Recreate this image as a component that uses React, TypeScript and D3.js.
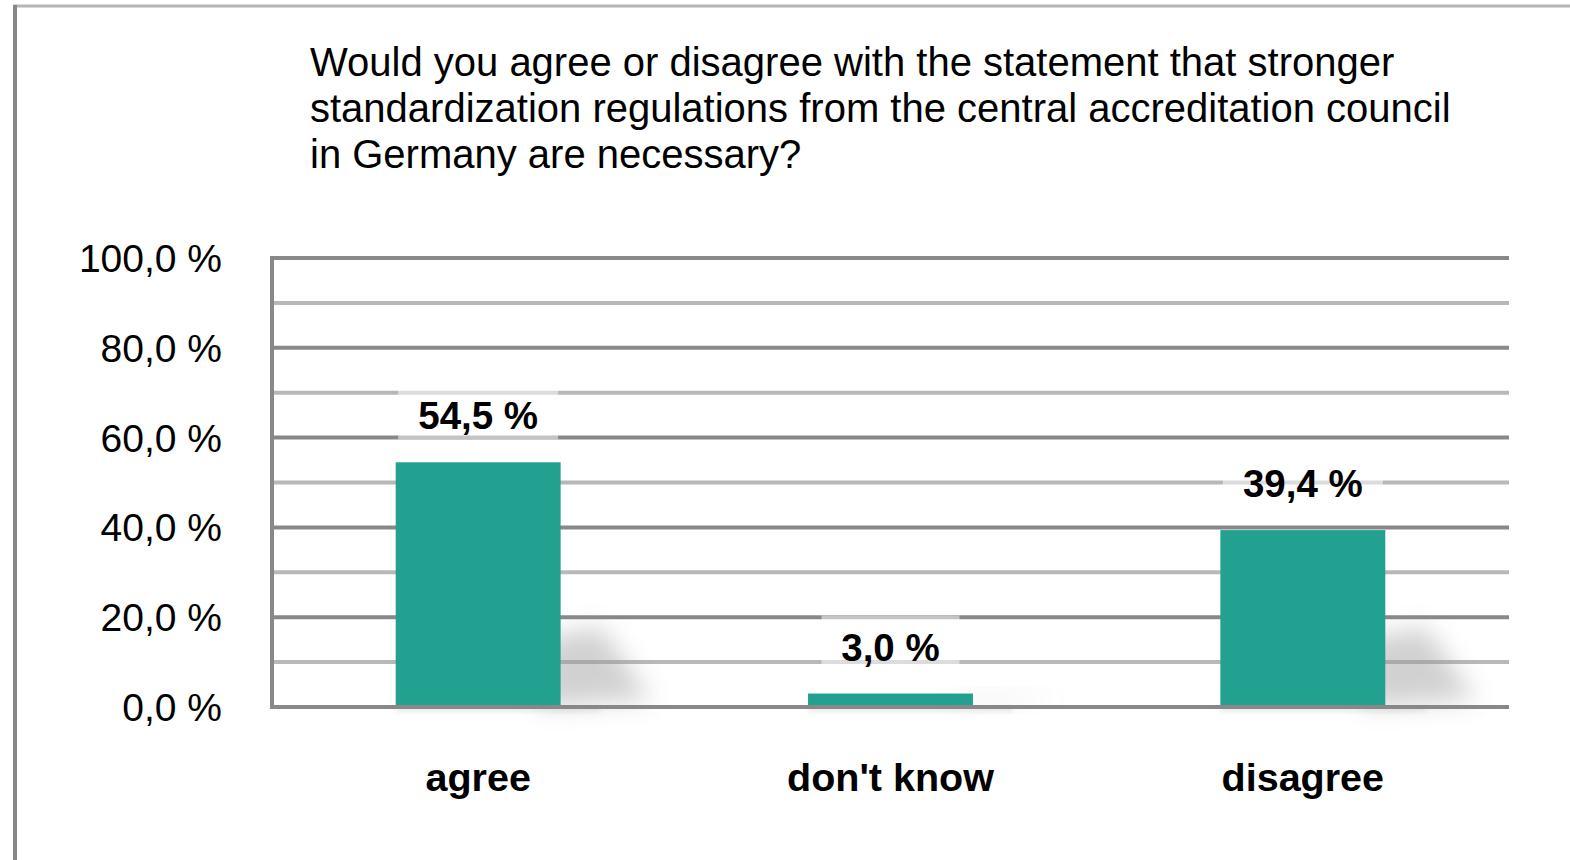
import React from "react";
import * as d3 from "d3";

const categories = ["agree", "don't know", "disagree"];
const values = [54.5, 3.0, 39.4];
const majorTicks = [0, 20, 40, 60, 80, 100];
const minorTicks = [10, 30, 50, 70, 90];
const titleLines = [
  "Would you agree or disagree with the statement that stronger",
  "standardization regulations from the central accreditation council",
  "in Germany are necessary?",
];

const W = 1570;
const H = 860;
const FONT = "'Liberation Sans', Arial, sans-serif";
const fmt = (v: number) => v.toFixed(1).replace(".", ",") + " %";

export default function App() {
  const x0 = 272, x1 = 1509, yTop = 258, yBot = 707;
  const x = d3.scaleBand().domain(categories).range([x0, x1]).paddingInner(0.6).paddingOuter(0.3);
  const y = d3.scaleLinear().domain([0, 100]).range([yBot, yTop]);
  const bw = x.bandwidth();

  return (
    <svg width={W} height={H} style={{ position: "absolute", left: 0, top: 0, background: "#fff" }}>
      <defs>
        <filter id="blur" x="-50%" y="-50%" width="200%" height="200%">
          <feGaussianBlur stdDeviation="12" />
        </filter>
        <filter id="blur2" x="-50%" y="-200%" width="200%" height="500%">
          <feGaussianBlur stdDeviation="2" />
        </filter>
      </defs>
      {/* frame */}
      <line x1={13} x2={W} y1={6} y2={6} stroke="#b4b4b4" strokeWidth={3} />
      <line x1={15} x2={15} y1={5} y2={H} stroke="#888" strokeWidth={4} />

      {/* title */}
      <text fontFamily={FONT} fontSize={40} fill="#000">
        {titleLines.map((t, i) => (
          <tspan key={i} x={310} y={76 + i * 46}>{t}</tspan>
        ))}
      </text>

      {/* minor grid */}
      {minorTicks.map((t) => (
        <line key={"m" + t} x1={x0} x2={x1} y1={y(t)} y2={y(t)} stroke="#b8b8b8" strokeWidth={4} />
      ))}
      {/* major grid */}
      {majorTicks.filter((t) => t > 0).map((t) => (
        <line key={"M" + t} x1={x0} x2={x1} y1={y(t)} y2={y(t)} stroke="#888" strokeWidth={4} />
      ))}

      {/* shadows */}
      {categories.map((c, i) => {
        const r = (x(c) as number) + bw;
        const h = Math.min(yBot - y(values[i]), 80);
        return (
          <g key={"s" + c}>
            <polygon
              points={`${r - 20},${yBot} ${r - 20},${yBot - h * 0.85} ${r + 40},${yBot - h} ${r + 90},${yBot - 8}`}
              fill="#9a9a9a"
              opacity={h > 40 ? 0.45 : 0.15}
              filter="url(#blur)"
            />
            <rect x={x(c) as number} y={yBot} width={bw + 40} height={5} fill="#ccc" opacity={0.4} filter="url(#blur2)" />
          </g>
        );
      })}

      {/* y axis labels */}
      {majorTicks.map((t) => (
        <text key={"y" + t} x={222} y={y(t) + 14} textAnchor="end" fontFamily={FONT} fontSize={39} fill="#000">
          {fmt(t)}
        </text>
      ))}

      {/* bars */}
      {categories.map((c, i) => (
        <rect key={"b" + c} x={x(c) as number} y={y(values[i])} width={bw} height={yBot - y(values[i])} fill="#22a090" />
      ))}

      {/* axis lines */}
      <line x1={x0 - 2} x2={x1} y1={yBot} y2={yBot} stroke="#888" strokeWidth={4} />
      <line x1={x0} x2={x1} y1={yTop} y2={yTop} stroke="#888" strokeWidth={4} />
      <line x1={x0} x2={x0} y1={yTop - 2} y2={yBot + 2} stroke="#888" strokeWidth={4} />

      {/* value labels */}
      {categories.map((c, i) => {
        const cx = (x(c) as number) + bw / 2;
        const base = y(values[i]) - 33;
        const txt = fmt(values[i]);
        const tw = txt.length === 5 ? 138 : 160;
        return (
          <g key={"v" + c}>
            <rect x={cx - tw / 2} y={base - 45} width={tw} height={55} fill="#fff" opacity={0.5} />
            <text x={cx} y={base} textAnchor="middle" fontFamily={FONT} fontWeight="bold" fontSize={38.5} fill="#000">
              {txt}
            </text>
          </g>
        );
      })}

      {/* category labels */}
      {categories.map((c) => (
        <text key={"c" + c} x={(x(c) as number) + bw / 2} y={791} textAnchor="middle" fontFamily={FONT} fontWeight="bold" fontSize={39.5} fill="#000">
          {c}
        </text>
      ))}
    </svg>
  );
}
